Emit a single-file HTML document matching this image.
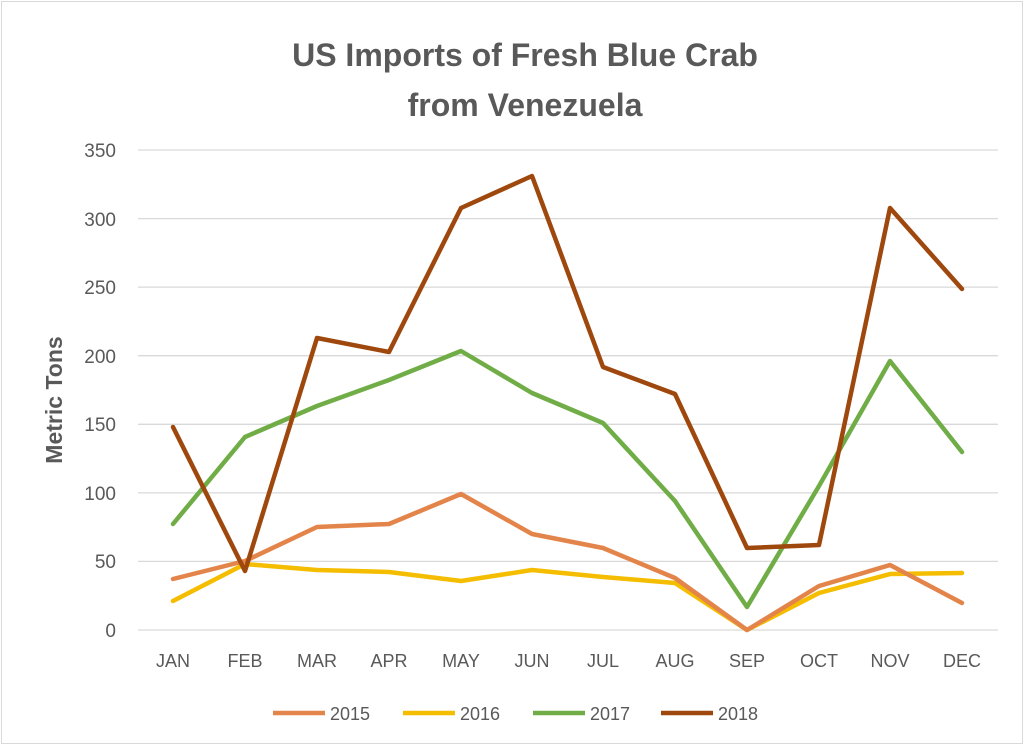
<!DOCTYPE html>
<html><head><meta charset="utf-8"><style>
html,body{margin:0;padding:0;background:#fff;}
svg{display:block;font-family:"Liberation Sans",sans-serif;}
</style></head><body>
<svg width="1024" height="745" viewBox="0 0 1024 745" xmlns="http://www.w3.org/2000/svg">
<rect x="0" y="0" width="1024" height="745" fill="#fff"/>
<rect x="1.5" y="1.5" width="1021" height="742" fill="none" stroke="#d9d9d9" stroke-width="1"/>
<text x="525" y="66" text-anchor="middle" font-size="32" font-weight="bold" fill="#595959">US Imports of Fresh Blue Crab</text>
<text x="525" y="116" text-anchor="middle" font-size="32" font-weight="bold" fill="#595959">from Venezuela</text>
<g stroke="#d9d9d9" stroke-width="1.3">
<line x1="138" y1="150" x2="998" y2="150"/>
<line x1="138" y1="218.6" x2="998" y2="218.6"/>
<line x1="138" y1="287.1" x2="998" y2="287.1"/>
<line x1="138" y1="355.7" x2="998" y2="355.7"/>
<line x1="138" y1="424.3" x2="998" y2="424.3"/>
<line x1="138" y1="492.9" x2="998" y2="492.9"/>
<line x1="138" y1="561.4" x2="998" y2="561.4"/>
<line x1="138" y1="630" x2="998" y2="630"/>
</g>
<g font-size="19" fill="#595959" text-anchor="end">
<text x="116" y="157">350</text><text x="116" y="226">300</text><text x="116" y="294">250</text>
<text x="116" y="363">200</text><text x="116" y="431">150</text><text x="116" y="500">100</text>
<text x="116" y="568">50</text><text x="116" y="637">0</text>
</g>
<text transform="translate(62,400) rotate(-90)" text-anchor="middle" font-size="23" font-weight="bold" fill="#595959">Metric Tons</text>
<g font-size="18" fill="#595959" text-anchor="middle">
<text x="173" y="667">JAN</text><text x="245" y="667">FEB</text><text x="317" y="667">MAR</text>
<text x="389" y="667">APR</text><text x="461" y="667">MAY</text><text x="532" y="667">JUN</text>
<text x="603" y="667">JUL</text><text x="675" y="667">AUG</text><text x="747" y="667">SEP</text>
<text x="819" y="667">OCT</text><text x="890" y="667">NOV</text><text x="962" y="667">DEC</text>
</g>
<g fill="none" stroke-width="4.5" stroke-linejoin="round" stroke-linecap="round">
<polyline stroke="#F5BD00" points="173,601 245,564 317,570 389,572 461,581 532,570 603,577 675,583 747,630 819,593 890,574 962,573"/>
<polyline stroke="#E3854A" points="173,579 245,561 317,527 389,524 461,494 532,534 603,548 675,578 747,630 819,586 890,565 962,603"/>
<polyline stroke="#70AD47" points="173,524 245,437 317,406 389,380 461,351 532,393 603,423 675,501 747,607 819,486 890,361 962,452"/>
<polyline stroke="#9E480E" points="173,427 245,571 317,338 389,352 461,208 532,176 603,367 675,394 747,548 819,545 890,208 962,289"/>
</g>
<g stroke-width="4.5">
<line x1="273" y1="713" x2="325" y2="713" stroke="#E3854A"/>
<line x1="403" y1="713" x2="455" y2="713" stroke="#F5BD00"/>
<line x1="533" y1="713" x2="585" y2="713" stroke="#70AD47"/>
<line x1="661" y1="713" x2="713" y2="713" stroke="#9E480E"/>
</g>
<g font-size="18" fill="#595959">
<text x="330" y="720">2015</text><text x="460" y="720">2016</text>
<text x="590" y="720">2017</text><text x="718" y="720">2018</text>
</g>
</svg>
</body></html>
